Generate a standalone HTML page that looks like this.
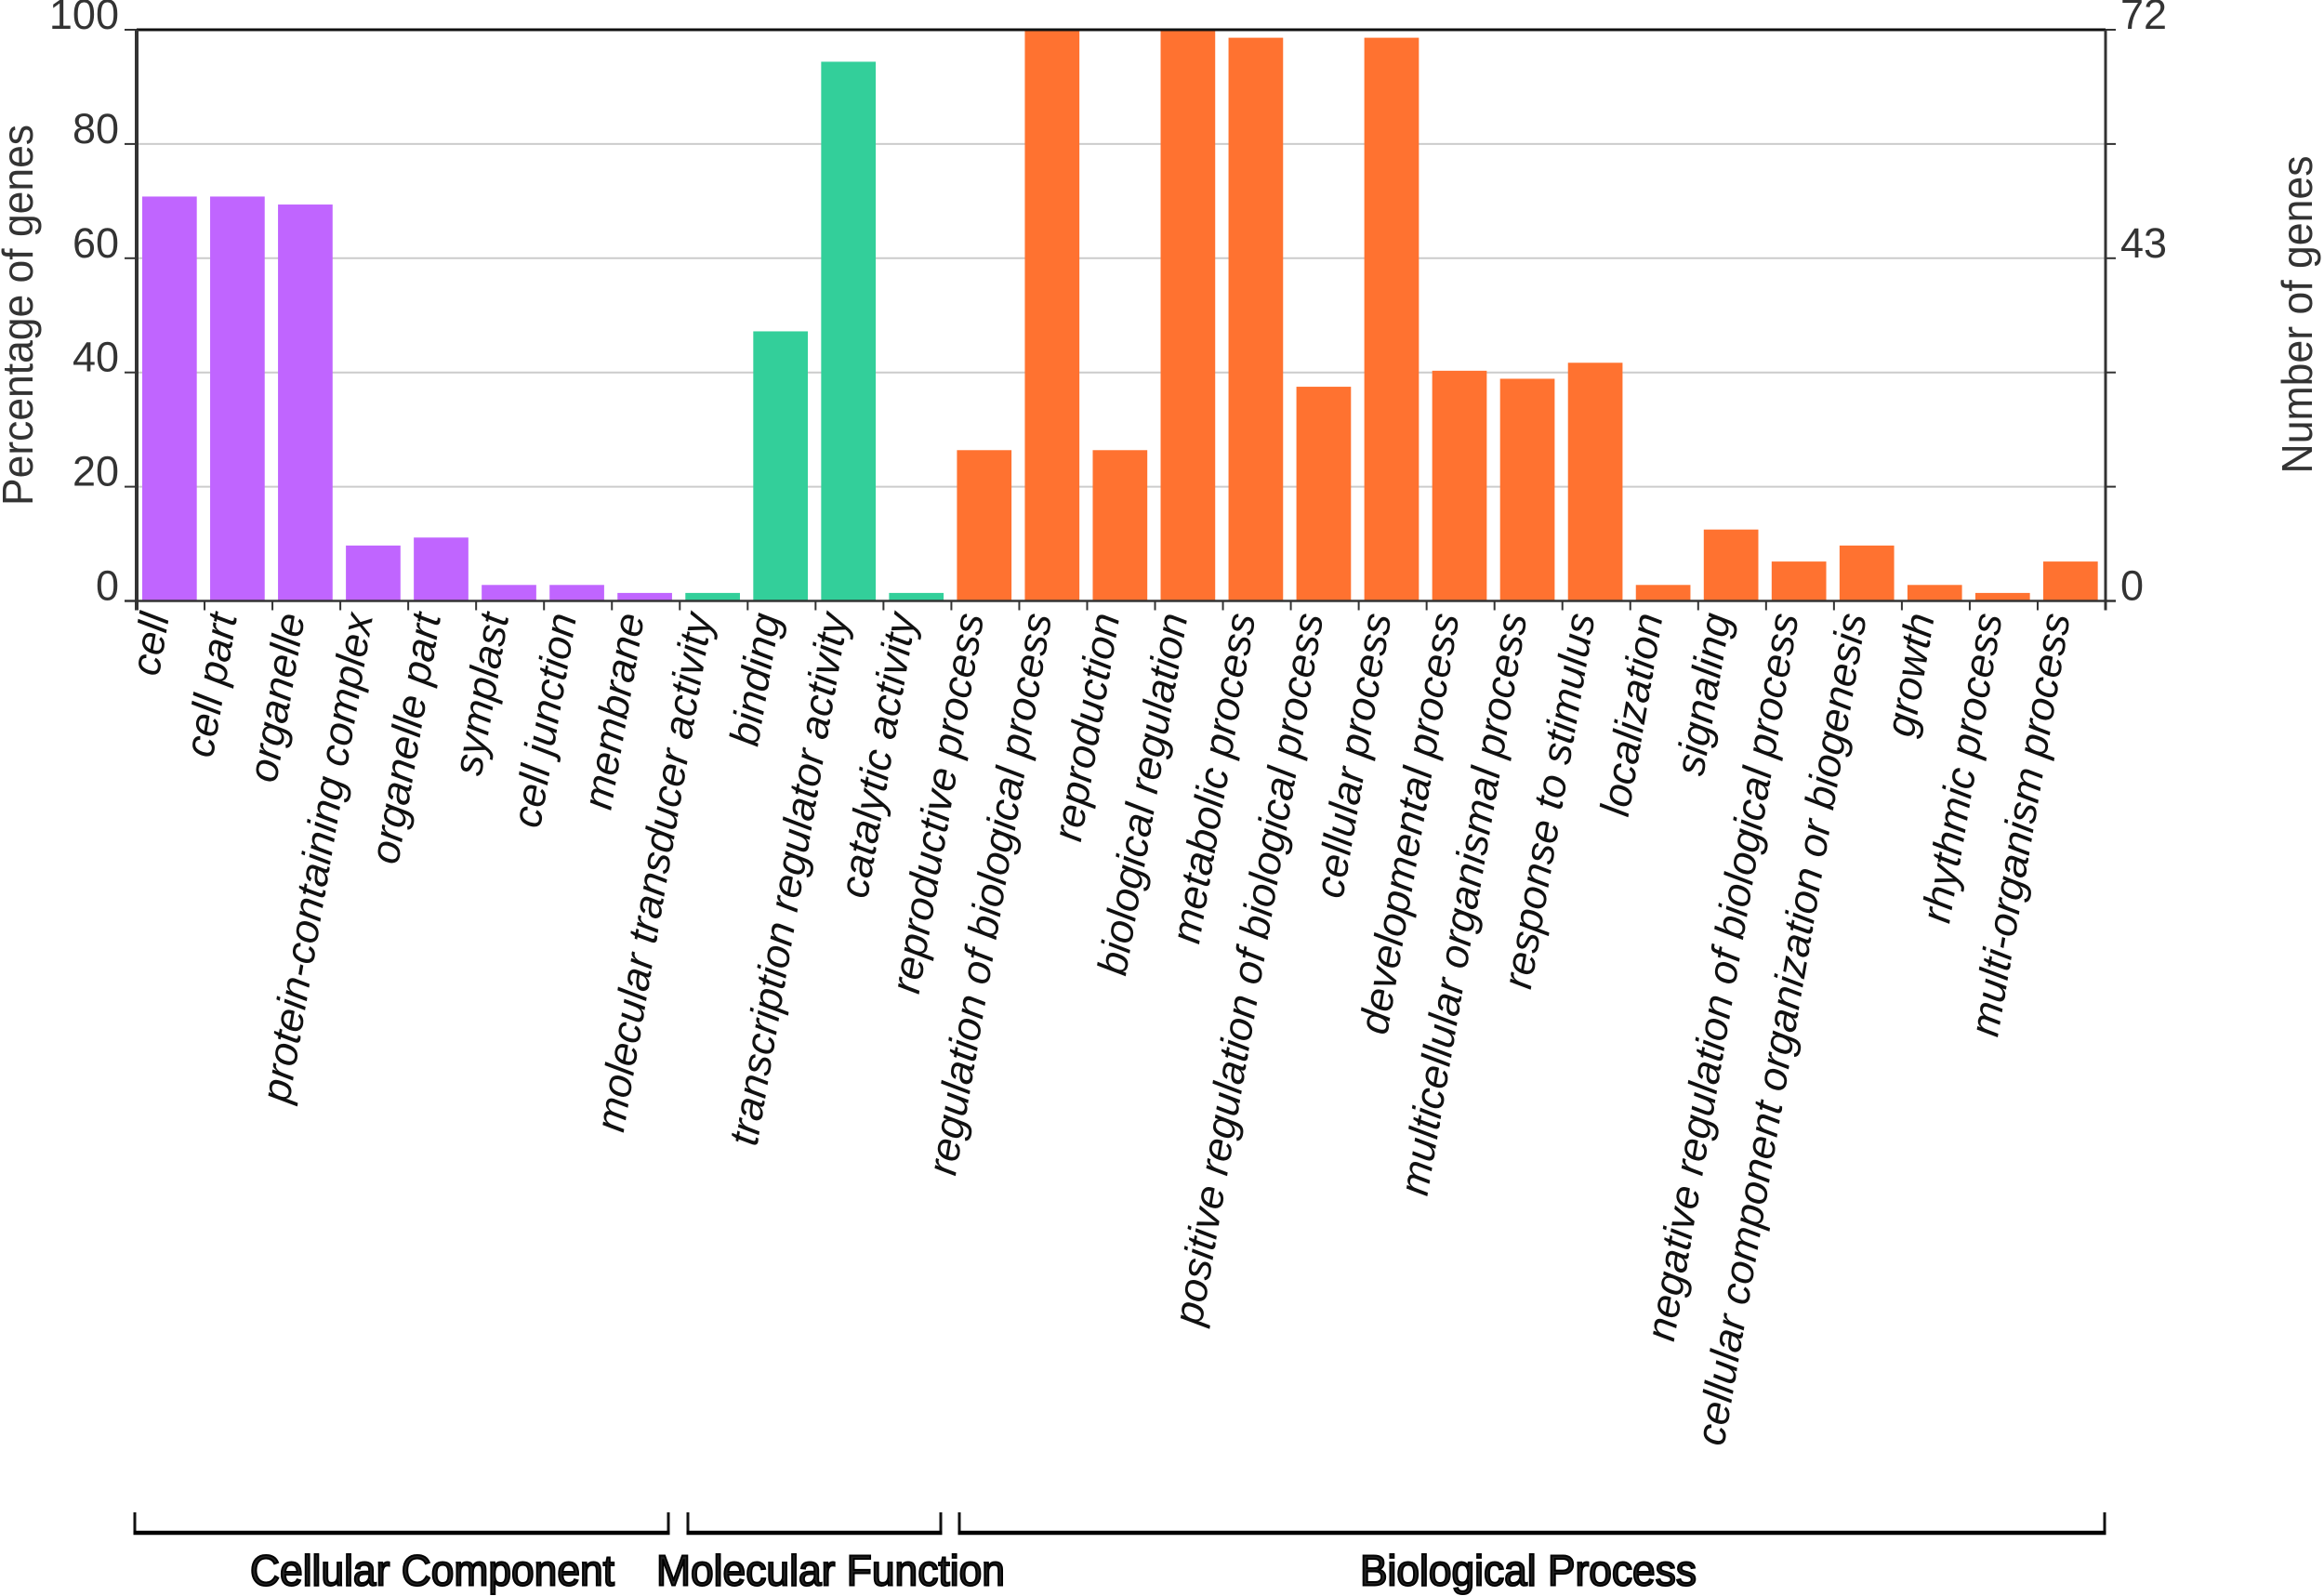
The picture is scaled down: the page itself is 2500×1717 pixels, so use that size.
<!DOCTYPE html>
<html lang="en">
<head>
<meta charset="utf-8">
<title>GO classification chart</title>
<style>
  html, body { margin: 0; padding: 0; background: #fff; }
  svg { display: block; font-family: "Liberation Sans", sans-serif; }
</style>
</head>
<body>
<svg id="chart" xmlns="http://www.w3.org/2000/svg" width="2500" height="1717" viewBox="0 0 2500 1717">
  <rect x="0" y="0" width="2500" height="1717" fill="#ffffff"/>
  <g id="grid"></g>
  <g id="bars"></g>
  <g id="axes"></g>
  <g id="xlabels"></g>
  <g id="ylabels"></g>
  <text transform="translate(35,339) rotate(-90)" text-anchor="middle" font-size="46" fill="#333333" textLength="410" lengthAdjust="spacingAndGlyphs">Percentage of genes</text>
  <text transform="translate(2487,338.5) rotate(-90)" text-anchor="middle" font-size="46" fill="#333333" textLength="342" lengthAdjust="spacingAndGlyphs">Number of genes</text>
  <g id="groups"></g>
</svg>
<script>
var categories = ["cell","cell part","organelle","protein-containing complex","organelle part","symplast","cell junction","membrane","molecular transducer activity","binding","transcription regulator activity","catalytic activity","reproductive process","regulation of biological process","reproduction","biological regulation","metabolic process","positive regulation of biological process","cellular process","developmental process","multicellular organismal process","response to stimulus","localization","signaling","negative regulation of biological process","cellular component organization or biogenesis","growth","rhythmic process","multi-organism process"];
var percentValues = [70.8,70.8,69.4,9.7,11.1,2.8,2.8,1.4,1.4,47.2,94.4,1.4,26.4,100,26.4,100,98.6,37.5,98.6,40.3,38.9,41.7,2.8,12.5,6.9,9.7,2.8,1.4,6.9];
var categoryGroup = [0,0,0,0,0,0,0,0,1,1,1,1,2,2,2,2,2,2,2,2,2,2,2,2,2,2,2,2,2];
var groupNames = ["Cellular Component","Molecular Function","Biological Process"];
var groupColors = ["#c065ff","#33cf9a","#ff7230"];
var leftTicks = [0,20,40,60,80,100];
var rightTickLabels = ["0","","","43","","72"];

var NS = "http://www.w3.org/2000/svg";
var plotLeft = 147, plotRight = 2265, plotTop = 32, plotBottom = 646.5;
var band = (plotRight - plotLeft) / categories.length;
function xPos(i) { return plotLeft + band * i; }
function yPos(v) { return plotBottom - (plotBottom - plotTop) * v / 100; }
function slug(s) { return s.toLowerCase().replace(/[^a-z0-9]+/g, "-"); }
function make(tag, attrs, parent) {
  var el = document.createElementNS(NS, tag);
  for (var k in attrs) el.setAttribute(k, attrs[k]);
  parent.appendChild(el);
  return el;
}

var gridG = document.getElementById("grid");
var barsG = document.getElementById("bars");
var axesG = document.getElementById("axes");
var xlabG = document.getElementById("xlabels");
var ylabG = document.getElementById("ylabels");
var groupsG = document.getElementById("groups");

leftTicks.forEach(function (t, i) {
  var y = yPos(t);
  if (t > 0 && t < 100) {
    var g = make("line", {x1: plotLeft, x2: plotRight, y1: y, y2: y, stroke: "#cccccc", "stroke-width": 2}, gridG);
    
    
  }
  var lt = make("line", {x1: plotLeft - 13, x2: plotLeft, y1: y, y2: y, stroke: "#333333", "stroke-width": 2}, axesG);
  
  
  var rt = make("line", {x1: plotRight, x2: plotRight + 11, y1: y, y2: y, stroke: "#333333", "stroke-width": 2}, axesG);
  
  
  var lab = make("text", {x: 128, y: y - 1, "text-anchor": "end", "font-size": 45, fill: "#333333"}, ylabG);
  lab.textContent = String(t);
  
  
  if (rightTickLabels[i]) {
    var rl = make("text", {x: 2281, y: y - 1, "text-anchor": "start", "font-size": 45, fill: "#333333"}, ylabG);
    rl.textContent = rightTickLabels[i];
    
    
  }
});

categories.forEach(function (c, i) {
  var top = yPos(percentValues[i]);
  var r = make("rect", {x: xPos(i) + 6, y: top, width: 58.7, height: plotBottom - top, fill: groupColors[categoryGroup[i]]}, barsG);
  
  
  var t = make("text", {"text-anchor": "end", "font-size": 44.6, "font-style": "italic", fill: "#111111",
    transform: "translate(" + (xPos(i) + 35) + ",662.5) rotate(-80.25)"}, xlabG);
  t.textContent = c;
  
  
});

for (var k = 0; k <= categories.length; k++) {
  var tk = make("line", {x1: xPos(k), x2: xPos(k), y1: plotBottom, y2: plotBottom + 10, stroke: "#333333", "stroke-width": 2}, axesG);
  
  
}

var axisTop = make("line", {x1: plotLeft, x2: plotRight, y1: plotTop, y2: plotTop, stroke: "#111111", "stroke-width": 3}, axesG);


var axisBottom = make("line", {x1: plotLeft - 13, x2: plotRight + 11, y1: plotBottom, y2: plotBottom, stroke: "#333333", "stroke-width": 2.5}, axesG);


var axisLeft = make("line", {x1: plotLeft, x2: plotLeft, y1: plotTop, y2: plotBottom + 10, stroke: "#333333", "stroke-width": 4}, axesG);


var axisRight = make("line", {x1: plotRight, x2: plotRight, y1: plotTop, y2: plotBottom + 10, stroke: "#333333", "stroke-width": 3}, axesG);



var bracketSpans = [[145,719,269,392],[740,1012,706,375],[1032,2264,1463,362]];
groupNames.forEach(function (name, i) {
  var s = bracketSpans[i];
  var v1 = make("line", {x1: s[0], x2: s[0], y1: 1627, y2: 1651, stroke: "#111111", "stroke-width": 3}, groupsG);
  
  
  var v2 = make("line", {x1: s[1], x2: s[1], y1: 1627, y2: 1651, stroke: "#111111", "stroke-width": 3}, groupsG);
  
  
  var h = make("line", {x1: s[0] - 1.5, x2: s[1] + 1.5, y1: 1649, y2: 1649, stroke: "#000000", "stroke-width": 4.5}, groupsG);
  
  
  var t = make("text", {x: s[2], y: 1705.5, "font-size": 46, fill: "#222222", stroke: "#000000", "stroke-width": 2,
    textLength: s[3], lengthAdjust: "spacingAndGlyphs"}, groupsG);
  t.textContent = name;
  
  
});
</script>
</body>
</html>
